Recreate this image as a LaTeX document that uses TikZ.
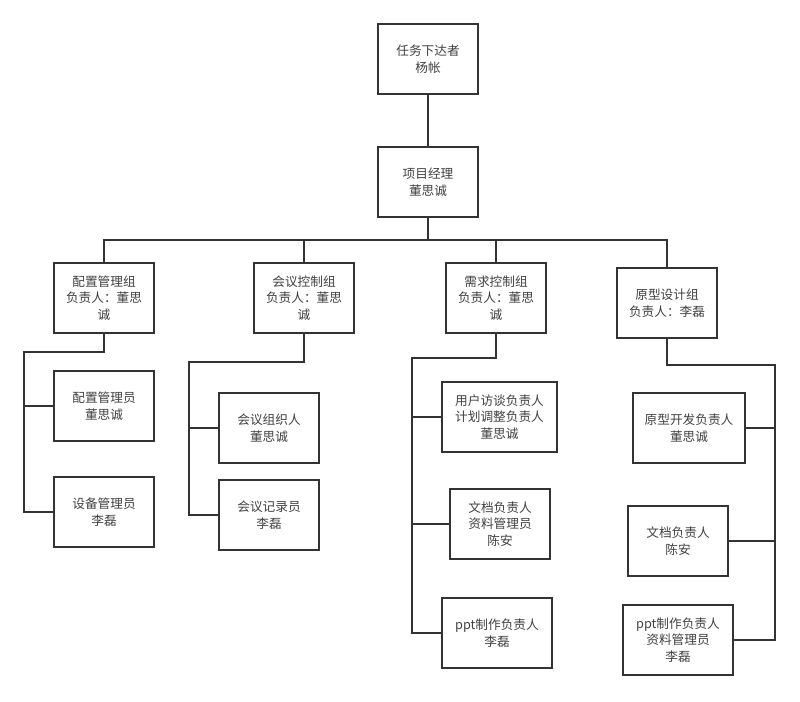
\documentclass[tikz,border=0pt]{standalone}
\usepackage{fontspec}
\setmainfont{Noto Sans CJK SC}
\definecolor{linec}{HTML}{333333}
\definecolor{textc}{HTML}{404040}
\begin{document}
\begin{tikzpicture}[x=0.75pt,y=-0.75pt,
    box/.style={draw=linec, line width=1.1pt, minimum width=#1, minimum height=52.5pt,
        align=center, text=textc, inner sep=1pt, font=\fontsize{9.5}{12.5}\selectfont},
    box/.default=75pt,
    conn/.style={draw=linec, line width=1.1pt}]
\useasboundingbox (0,0) rectangle (800,701);

% top two levels
\node[box] (boss) at (428,59) {任务下达者\\杨帐};
\node[box] (pm) at (428,182) {项目经理\\董思诚};

% groups
\node[box] (g1) at (104,298) {配置管理组\\负责人：董思\\诚};
\node[box] (g2) at (304,298) {会议控制组\\负责人：董思\\诚};
\node[box] (g3) at (496,298) {需求控制组\\负责人：董思\\诚};
\node[box] (g4) at (667,303) {原型设计组\\负责人：李磊};

% members
\node[box] (a1) at (104,406) {配置管理员\\董思诚};
\node[box] (a2) at (104,512) {设备管理员\\李磊};
\node[box] (b1) at (269,428) {会议组织人\\董思诚};
\node[box] (b2) at (269,515) {会议记录员\\李磊};
\node[box=86.25pt] (c1) at (499.5,417) {用户访谈负责人\\计划调整负责人\\董思诚};
\node[box] (c2) at (500,524) {文档负责人\\资料管理员\\陈安};
\node[box=82.5pt] (c3) at (497,633) {ppt制作负责人\\李磊};
\node[box=84pt] (d1) at (689,428) {原型开发负责人\\董思诚};
\node[box] (d2) at (678,541) {文档负责人\\陈安};
\node[box=82.5pt] (d3) at (678,640) {ppt制作负责人\\资料管理员\\李磊};

\coordinate (bus) at (428,240);
\coordinate (t1) at (24,352);
\coordinate (t2) at (189,362);
\coordinate (t3) at (412,358);
\coordinate (t4) at (775,365);

\draw[conn] (boss) -- (pm);
\draw[conn] (pm) -- (pm|-bus);
\draw[conn] (g1) |- (bus) -| (g4);
\draw[conn] (g2) -- (g2|-bus);
\draw[conn] (g3) -- (g3|-bus);

\draw[conn] (g1) |- (t1) |- (a2);
\draw[conn] (t1|-a1) -- (a1);
\draw[conn] (g2) |- (t2) |- (b2);
\draw[conn] (t2|-b1) -- (b1);
\draw[conn] (g3) |- (t3) |- (c3);
\draw[conn] (t3|-c1) -- (c1);
\draw[conn] (t3|-c2) -- (c2);
\draw[conn] (g4) |- (t4) |- (d3);
\draw[conn] (t4|-d1) -- (d1);
\draw[conn] (t4|-d2) -- (d2);

\end{tikzpicture}
\end{document}
